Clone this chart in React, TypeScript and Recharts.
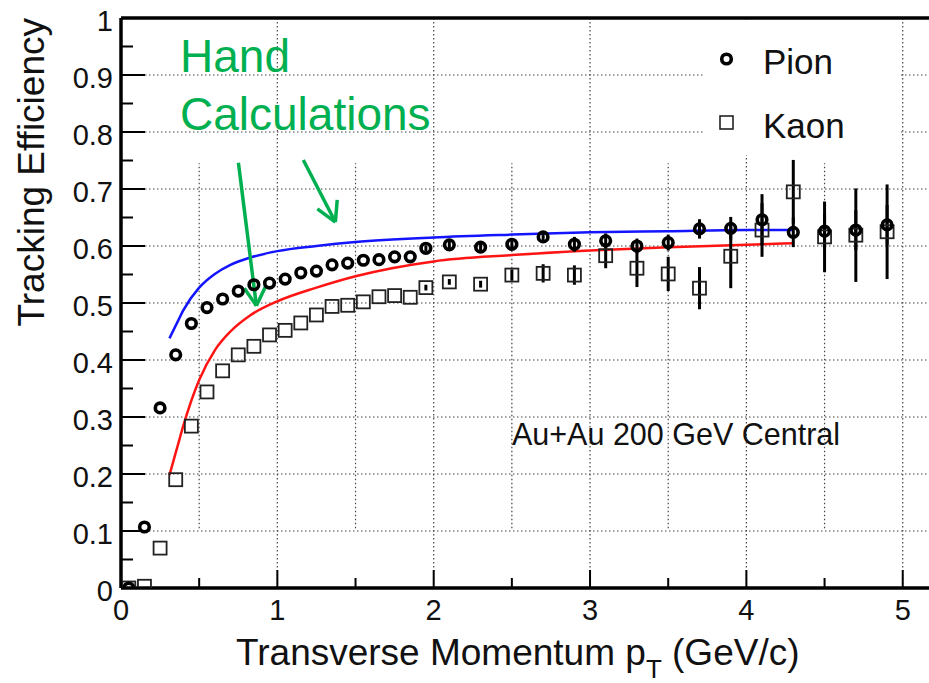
import React from "react";
import {
  ComposedChart,
  XAxis,
  YAxis,
  CartesianGrid,
  Scatter,
  Line,
  ErrorBar,
  ReferenceLine,
  Customized,
} from "recharts";

// pT bin centres (GeV/c)
const PT = [
  0.05, 0.15, 0.25, 0.35, 0.45, 0.55, 0.65, 0.75, 0.85, 0.95, 1.05, 1.15, 1.25, 1.35, 1.45, 1.55, 1.65,
  1.75, 1.85, 1.95, 2.1, 2.3, 2.5, 2.7, 2.9, 3.1, 3.3, 3.5, 3.7, 3.9, 4.1, 4.3, 4.5, 4.7, 4.9,
];

const PION_EFF = [
  0.0, 0.107, 0.316, 0.409, 0.464, 0.492, 0.507, 0.521, 0.532, 0.535, 0.542, 0.553, 0.556, 0.567, 0.57,
  0.575, 0.576, 0.581, 0.581, 0.596, 0.602, 0.598, 0.603, 0.616, 0.603, 0.609, 0.6, 0.606, 0.63, 0.631,
  0.646, 0.624, 0.626, 0.628, 0.637,
];
const PION_ERR = [
  0, 0, 0, 0, 0, 0, 0, 0, 0, 0, 0, 0, 0, 0, 0, 0, 0, 0, 0, 0.005, 0.008, 0.008, 0.008, 0.008, 0.013,
  0.013, 0.013, 0.014, 0.017, 0.02, 0.045, 0.026, 0.03, 0.035, 0.035,
];

const KAON_EFF = [
  0.0, 0.003, 0.07, 0.19, 0.284, 0.344, 0.381, 0.409, 0.424, 0.444, 0.452, 0.465, 0.479, 0.494, 0.496,
  0.502, 0.511, 0.513, 0.51, 0.527, 0.537, 0.533, 0.549, 0.552, 0.549, 0.583, 0.561, 0.551, 0.526, 0.582,
  0.628, 0.695, 0.616, 0.619, 0.625,
];
const KAON_ERR = [
  0, 0, 0, 0, 0, 0, 0, 0, 0, 0, 0, 0, 0, 0, 0, 0, 0, 0, 0, 0.005, 0.005, 0.006, 0.01, 0.016, 0.017,
  0.022, 0.033, 0.03, 0.037, 0.056, 0.047, 0.056, 0.062, 0.082, 0.083,
];

// hand-calculated efficiency curves
const CALC_PT = [0.31, 0.36, 0.4, 0.5, 0.6, 0.7, 0.83, 1.0, 1.25, 1.5, 2.0, 2.5, 3.0, 3.5, 4.0, 4.3];
const CALC_PION = [
  0.438, 0.466, 0.488, 0.527, 0.551, 0.567, 0.58, 0.591, 0.6, 0.607, 0.615, 0.62, 0.624, 0.626, 0.628, 0.628,
];
const CALC_KAON = [
  0.198, 0.247, 0.286, 0.365, 0.417, 0.45, 0.479, 0.503, 0.527, 0.547, 0.573, 0.584, 0.592, 0.598, 0.602,
  0.605,
];

const Y_TICKS = [
  0, 0.05, 0.1, 0.15, 0.2, 0.25, 0.3, 0.35, 0.4, 0.45, 0.5, 0.55, 0.6, 0.65, 0.7, 0.75, 0.8, 0.85, 0.9,
  0.95, 1,
];
const Y_MAJOR = [0, 0.1, 0.2, 0.3, 0.4, 0.5, 0.6, 0.7, 0.8, 0.9, 1];
const Y_GRID = [0.1, 0.2, 0.3, 0.4, 0.5, 0.6, 0.7, 0.8, 0.9];
const X_TICKS = [0, 0.5, 1, 1.5, 2, 2.5, 3, 3.5, 4, 4.5, 5];
const X_MAJOR = [0, 1, 2, 3, 4, 5];
const X_GRID = [1, 2, 3, 4, 5];
const X_HALF_GRID = [0.5, 1.5, 2.5, 3.5, 4.5];

// green annotation arrows: shaft start, tip, and the two wing ends
const ARROWS = [
  { from: [0.751, 0.746], tip: [0.866, 0.495], wings: [[0.789, 0.526], [0.923, 0.528]] },
  { from: [1.166, 0.751], tip: [1.371, 0.642], wings: [[1.256, 0.665], [1.383, 0.681]] },
];

const FONT = '"Liberation Sans", Arial, sans-serif';
const GREEN = "#00b050";

const pionData = PT.map((x, i) => ({ x, y: PION_EFF[i], err: PION_ERR[i] }));
const kaonData = PT.map((x, i) => ({ x, y: KAON_EFF[i], err: KAON_ERR[i] }));
const pionCalc = CALC_PT.map((x, i) => ({ x, y: CALC_PION[i] }));
const kaonCalc = CALC_PT.map((x, i) => ({ x, y: CALC_KAON[i] }));

const isIn = (list: number[], v: number) => list.some((t) => Math.abs(t - v) < 1e-6);

function YTick({ x, y, payload }: any) {
  const major = isIn(Y_MAJOR, payload.value);
  return (
    <g>
      <line x1={x} x2={x + (major ? 24 : 12)} y1={y} y2={y} stroke="#000" strokeWidth={2} />
      {major && (
        <text x={x - 8} y={y + 12.5} textAnchor="end" fontSize={29} fontFamily={FONT} fill="#111">
          {String(payload.value)}
        </text>
      )}
    </g>
  );
}

function XTick({ x, y, payload }: any) {
  const major = isIn(X_MAJOR, payload.value);
  return (
    <g>
      <line x1={x} x2={x} y1={y} y2={y - (major ? 18 : 10)} stroke="#000" strokeWidth={2} />
      {major && (
        <text x={x} y={y + 32} textAnchor="middle" fontSize={29} fontFamily={FONT} fill="#111">
          {String(payload.value)}
        </text>
      )}
    </g>
  );
}

const PionMarker = ({ cx, cy }: any) => (
  <circle cx={cx} cy={cy} r={4.8} fill="none" stroke="#000" strokeWidth={3.6} />
);
const KaonMarker = ({ cx, cy }: any) => (
  <rect x={cx - 6.5} y={cy - 6.5} width={13} height={13} fill="none" stroke="#222" strokeWidth={1.8} />
);

function Overlay() {
  return (
    <g fontFamily={FONT}>
      {/* legend */}
      <rect x={703} y={21} width={197} height={134} fill="#fff" />
      <circle cx={726.5} cy={59} r={4.8} fill="none" stroke="#000" strokeWidth={3.6} />
      <text x={763} y={74} fontSize={35} fill="#111">Pion</text>
      <rect x={720} y={116} width={13} height={13} fill="none" stroke="#222" strokeWidth={1.6} />
      <text x={763} y={138} fontSize={35} fill="#111">Kaon</text>

      <text x={180} y={72} fontSize={46} fill={GREEN}>Hand</text>
      <text x={180} y={130} fontSize={46} fill={GREEN}>Calculations</text>

      <text x={512} y={445} fontSize={30.5} fill="#111">Au+Au 200 GeV Central</text>

      {/* axis titles */}
      <text x={44} y={18} transform="rotate(-90 44 18)" textAnchor="end" fontSize={37} fill="#111">
        Tracking Efficiency
      </text>
      <text x={236} y={665} fontSize={37} fill="#111">
        Transverse Momentum p
        <tspan dy={13} fontSize={26}>T</tspan>
        <tspan dy={-13}> (GeV/c)</tspan>
      </text>
    </g>
  );
}

export default function App() {
  return (
    <div
      style={{
        position: "fixed",
        left: 0,
        top: 0,
        width: 929,
        height: 683,
        overflow: "hidden",
        background: "#fff",
      }}
    >
      <ComposedChart width={940} height={683} margin={{ top: 18, right: 6, bottom: 0, left: 0 }}>
        <CartesianGrid
          horizontalValues={Y_GRID}
          verticalValues={X_GRID}
          stroke="#444"
          strokeDasharray="1.5 2.5"
          strokeWidth={1.2}
        />
        <XAxis
          type="number"
          dataKey="x"
          domain={[0, 5.2]}
          ticks={X_TICKS}
          interval={0}
          height={95}
          tickSize={0}
          tickMargin={0}
          tick={(p: any) => <XTick {...p} />}
          tickLine={false}
          axisLine={{ stroke: "#000", strokeWidth: 3.5 }}
          allowDataOverflow
        />
        <YAxis
          type="number"
          dataKey="y"
          domain={[0, 1]}
          ticks={Y_TICKS}
          interval={0}
          width={121}
          tickSize={0}
          tickMargin={0}
          tick={(p: any) => <YTick {...p} />}
          tickLine={false}
          axisLine={{ stroke: "#000", strokeWidth: 3.5 }}
          allowDataOverflow
        />
        {X_HALF_GRID.map((v) => (
          <ReferenceLine
            key={v}
            segment={[
              { x: v, y: 0.105 },
              { x: v, y: 0.745 },
            ]}
            stroke="#444"
            strokeDasharray="1.5 2.5"
            strokeWidth={1.2}
          />
        ))}
        <ReferenceLine y={1} stroke="#000" strokeWidth={3.5} />

        <Line
          data={pionCalc}
          dataKey="y"
          type="monotone"
          stroke="#1414ff"
          strokeWidth={2.5}
          dot={false}
          isAnimationActive={false}
        />
        <Line
          data={kaonCalc}
          dataKey="y"
          type="monotone"
          stroke="#ff1414"
          strokeWidth={2.5}
          dot={false}
          isAnimationActive={false}
        />

        <Scatter data={kaonData} dataKey="y" shape={KaonMarker} isAnimationActive={false}>
          <ErrorBar dataKey="err" direction="y" width={0} stroke="#000" strokeWidth={3} />
        </Scatter>
        <Scatter data={pionData} dataKey="y" shape={PionMarker} isAnimationActive={false}>
          <ErrorBar dataKey="err" direction="y" width={0} stroke="#000" strokeWidth={3} />
        </Scatter>

        {ARROWS.map((a, i) => (
          <React.Fragment key={i}>
            <ReferenceLine
              segment={[
                { x: a.from[0], y: a.from[1] },
                { x: a.tip[0], y: a.tip[1] },
              ]}
              stroke={GREEN}
              strokeWidth={3.5}
              ifOverflow="visible"
            />
            {a.wings.map((w, j) => (
              <ReferenceLine
                key={j}
                segment={[
                  { x: w[0], y: w[1] },
                  { x: a.tip[0], y: a.tip[1] },
                ]}
                stroke={GREEN}
                strokeWidth={3.5}
                ifOverflow="visible"
              />
            ))}
          </React.Fragment>
        ))}

        <Customized component={Overlay} />
      </ComposedChart>
    </div>
  );
}
